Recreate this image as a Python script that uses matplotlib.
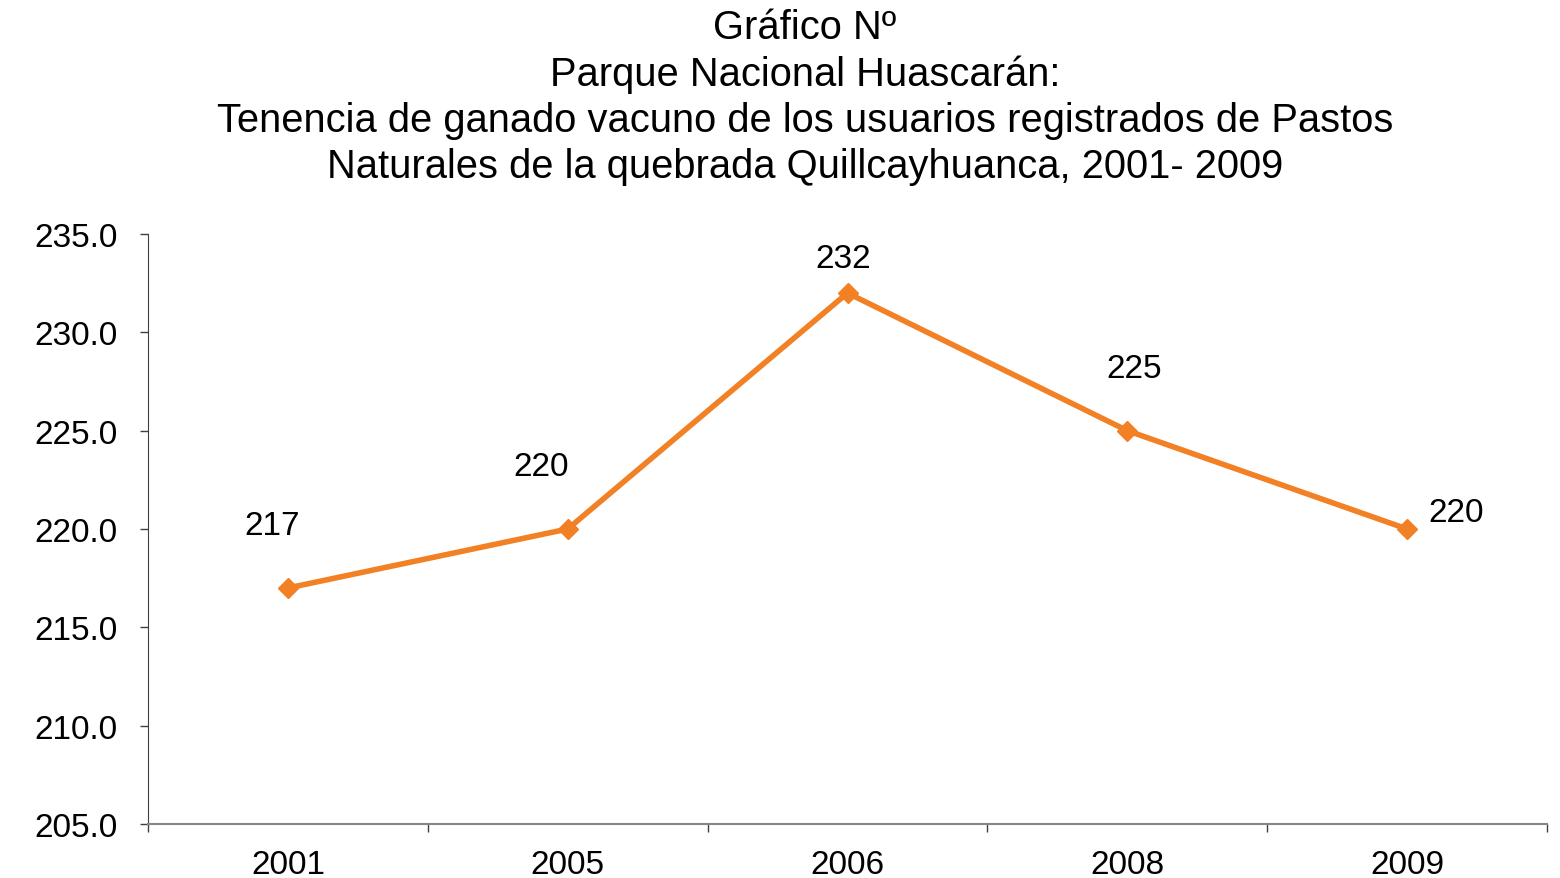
import matplotlib.pyplot as plt

# Data
years = ["2001", "2005", "2006", "2008", "2009"]
cattle = [217, 220, 232, 225, 220]
# offsets (points) for the value labels
label_offsets = [(-11, 45), (-19, 45), (-3, 25), (5, 45), (35, 12)]

plt.rcParams['font.family'] = ['Liberation Sans', 'DejaVu Sans']

fig = plt.figure(figsize=(15.6, 8.79), dpi=100)
ax = fig.add_axes([148 / 1560, 1 - 825 / 879, (1547 - 148) / 1560, (825 - 235) / 879])

x = list(range(len(years)))
ax.plot(x, cattle, color='#F28025', linewidth=4, marker='D', markersize=10,
        markerfacecolor='#F28025', markeredgecolor='#F28025')

for xi, val, off in zip(x, cattle, label_offsets):
    ax.annotate(str(val), (xi, val), xytext=off, textcoords='offset points',
                ha='center', va='center', fontsize=24)

ax.set_xlim(-0.5, len(years) - 0.5)
ax.set_ylim(205, 235)
ax.set_yticks(range(205, 236, 5))
ax.set_yticklabels([f"{v:.1f}" for v in range(205, 236, 5)], fontsize=24)

# category labels centred, ticks between categories
ax.set_xticks(x)
ax.set_xticklabels(years, fontsize=24)
ax.tick_params(axis='x', which='major', length=0, pad=18)
ax.set_xticks([i - 0.5 for i in range(len(years) + 1)], minor=True)
ax.tick_params(axis='x', which='minor', length=6, width=1, color='#404040')
ax.tick_params(axis='y', length=6, width=1, color='#404040', pad=16)

for s in ['top', 'right']:
    ax.spines[s].set_visible(False)
ax.spines['left'].set_color('#404040')
ax.spines['bottom'].set_color('#868686')
ax.spines['bottom'].set_linewidth(1.5)

fig.text(0.516, 0.99,
         "Gráfico Nº\nParque Nacional Huascarán:\n"
         "Tenencia de ganado vacuno de los usuarios registrados de Pastos\n"
         "Naturales de la quebrada Quillcayhuanca, 2001- 2009",
         ha='center', va='top', fontsize=28.7, linespacing=1.27)

fig.savefig("out.png", dpi=100)
